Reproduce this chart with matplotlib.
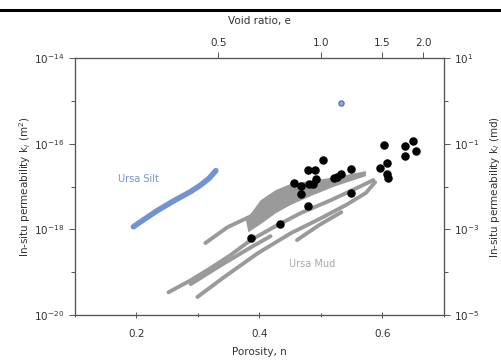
import matplotlib
matplotlib.use("Agg")
import matplotlib.pyplot as plt
from matplotlib.ticker import FixedLocator, NullFormatter, MultipleLocator
from matplotlib.lines import Line2D
import numpy as np

# Ursa Silt trend (porosity, log10 permeability in m^2)
silt_n = [0.195, 0.206, 0.233, 0.260, 0.288, 0.304, 0.318, 0.329]
silt_logk = [-17.94, -17.83, -17.57, -17.34, -17.12, -16.97, -16.81, -16.63]

# single silt outlier
silt_pt_n = [0.533]
silt_pt_logk = [-15.06]

# Ursa Mud bands
mudA_n = [0.312, 0.348, 0.397]
mudA_logk = [-18.32, -17.95, -17.62]
mudB_n = [0.252, 0.288, 0.320, 0.353, 0.386, 0.423, 0.467, 0.516, 0.565, 0.585]
mudB_logk = [-19.47, -19.19, -18.91, -18.60, -18.25, -17.95, -17.62, -17.32, -16.99, -16.85]
mudB2_n = [0.288, 0.337, 0.386, 0.418]
mudB2_logk = [-19.28, -18.84, -18.42, -18.16]
mudC_n = [0.299, 0.342, 0.397, 0.451, 0.500, 0.541, 0.573, 0.588]
mudC_logk = [-19.58, -19.12, -18.56, -18.09, -17.74, -17.43, -17.15, -16.90]
mudD_n = [0.461, 0.497, 0.533]
mudD_logk = [-18.25, -17.90, -17.60]
# dense cloud outline
cloud_n = [0.378, 0.402, 0.427, 0.451, 0.484, 0.524, 0.573,
           0.573, 0.524, 0.484, 0.451, 0.427, 0.402, 0.382]
cloud_logk = [-17.79, -17.32, -17.08, -16.94, -16.87, -16.78, -16.64,
              -16.76, -16.99, -17.22, -17.43, -17.62, -17.88, -18.07]

# black points
pts_n = [0.602, 0.637, 0.649, 0.655, 0.637, 0.503, 0.479, 0.491, 0.549, 0.596,
         0.607, 0.608, 0.609, 0.456, 0.467, 0.480, 0.487, 0.492, 0.521, 0.526,
         0.533, 0.467, 0.549, 0.479, 0.433, 0.386]
pts_logk = [-16.03, -16.05, -15.93, -16.17, -16.28, -16.39, -16.62, -16.62, -16.59, -16.56,
            -16.45, -16.71, -16.79, -16.91, -16.99, -16.95, -16.93, -16.83, -16.81, -16.77,
            -16.71, -17.18, -17.16, -17.45, -17.88, -18.21]

void_ticks = [0.5, 1.0, 1.5, 2.0]
void_labels = ["0.5", "1.0", "1.5", "2.0"]

txt = "#333333"
spine = "#555555"
fs = 7.5

fig = plt.figure(figsize=(5.02, 3.62), dpi=100)
ax = fig.add_axes([0.1494, 0.1298, 0.735, 0.710])

gray = "#9a9a9a"
ax.fill(cloud_n, 10.0 ** np.array(cloud_logk), color=gray, lw=0)
bands = [(mudA_n, mudA_logk), (mudB_n, mudB_logk), (mudB2_n, mudB2_logk),
         (mudC_n, mudC_logk), (mudD_n, mudD_logk)]
for nn, kk in bands:
    ax.plot(nn, 10.0 ** np.array(kk), color=gray, lw=2.8, solid_capstyle="round")

ax.plot(silt_n, 10.0 ** np.array(silt_logk), color="#7193d3", lw=4, solid_capstyle="round")
ax.scatter(silt_pt_n, 10.0 ** np.array(silt_pt_logk), s=14, color="#8fa8e0",
           edgecolor="#4a66a8", lw=0.8, zorder=4)
ax.scatter(pts_n, 10.0 ** np.array(pts_logk), s=26, color="black", zorder=5)

ax.text(0.203, 10 ** -16.83, "Ursa Silt", color="#7b92cf", fontsize=7,
        ha="center", va="center")
ax.text(0.486, 10 ** -18.80, "Ursa Mud", color="#a8a8a8", fontsize=7,
        ha="center", va="center")

ax.set_yscale("log")
ax.set_xlim(0.1, 0.7)
ax.set_ylim(1e-20, 1e-14)
ax.xaxis.set_major_locator(FixedLocator([0.2, 0.4, 0.6]))
ax.xaxis.set_minor_locator(MultipleLocator(0.1))
ax.set_xticklabels(["0.2", "0.4", "0.6"])
ax.yaxis.set_major_locator(FixedLocator([1e-20, 1e-18, 1e-16, 1e-14]))
ax.yaxis.set_minor_locator(FixedLocator([1e-19, 1e-17, 1e-15]))
ax.yaxis.set_minor_formatter(NullFormatter())
ax.set_xlabel("Porosity, n", fontsize=fs, color=txt, labelpad=6)
ax.set_ylabel("In-situ permeability k$_i$ (m$^2$)", fontsize=fs, color=txt, labelpad=1)

axr = ax.twinx()
axr.set_yscale("log")
axr.set_ylim(1e-5, 1e1)
axr.yaxis.set_major_locator(FixedLocator([1e-5, 1e-3, 1e-1, 1e1]))
axr.yaxis.set_minor_locator(FixedLocator([1e-4, 1e-2, 1e0]))
axr.yaxis.set_minor_formatter(NullFormatter())
axr.set_ylabel("In-situ permeability k$_i$ (md)", fontsize=fs, color=txt, labelpad=6)

axt = ax.twiny()
axt.set_xlim(0.1, 0.7)
axt.xaxis.set_major_locator(FixedLocator([e / (1 + e) for e in void_ticks]))
axt.set_xticklabels(void_labels)
axt.set_xlabel("Void ratio, e", fontsize=fs, color=txt, labelpad=10)

for a in (ax, axr, axt):
    for s in a.spines.values():
        s.set_color(spine)
        s.set_linewidth(0.8)
    a.tick_params(which="both", direction="out", colors=spine, labelcolor=txt,
                  labelsize=fs, width=0.7)
    a.tick_params(which="major", length=4)
    a.tick_params(which="minor", length=3)
ax.tick_params(axis="x", which="both", direction="inout", pad=8)

fig.add_artist(Line2D([0, 1], [0.972, 0.972], color="black", lw=2.2, transform=fig.transFigure))

plt.savefig("out.png", dpi=100)
